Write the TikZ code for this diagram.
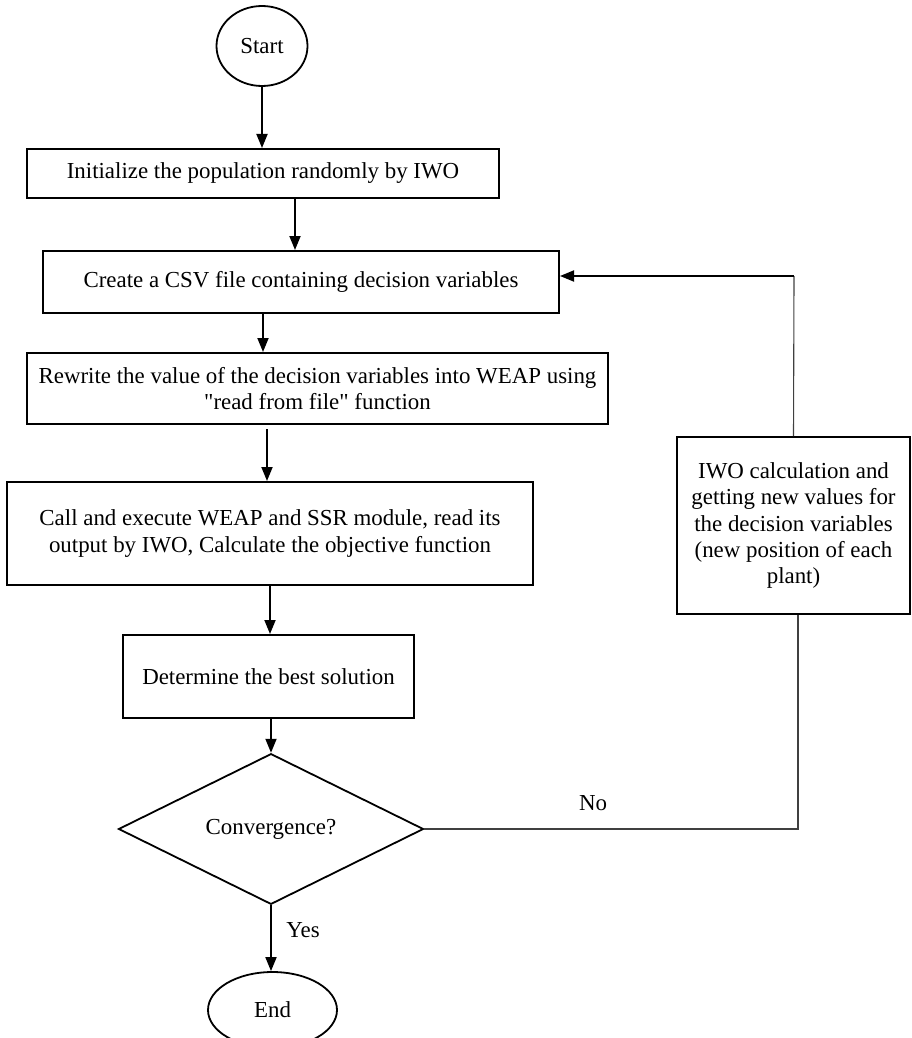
\documentclass[tikz,border=0pt]{standalone}
\usepackage{fontspec}
\setmainfont{Liberation Serif}
\usetikzlibrary{shapes.geometric,arrows.meta}
\begin{document}
\begin{tikzpicture}[x=1pt,y=-1pt,
  every node/.style={font=\fontsize{22.9}{26.3}\selectfont, inner sep=0pt},
  box/.style={draw, line width=2pt, rectangle, align=center},
  term/.style={draw, line width=1.8pt, ellipse},
  dec/.style={draw, line width=1.8pt, diamond},
  arr/.style={line width=1.8pt, -{Triangle[length=14pt,width=11pt]}},
  thinline/.style={line width=1.1pt, draw=black!75}
]
\useasboundingbox (0,0) rectangle (911,1038);
\clip (0,0) rectangle (911,1038);

\node[term, minimum width=91, minimum height=80] (start) at (262,46) {Start};
\node[box, minimum width=472, minimum height=49] (b1) at (263,173.5) {Initialize the population randomly by IWO};
\node[box, minimum width=516, minimum height=62] (b2) at (301,282) {Create a CSV file containing decision variables};
\node[box, minimum width=581, minimum height=71] (b3) at (317.5,388.5) {Rewrite the value of the decision variables into WEAP using\\\textquotedbl read from file\textquotedbl{} function};
\node[box, minimum width=526, minimum height=103] (b4) at (270,533.5) {Call and execute WEAP and SSR module, read its\\output by IWO, Calculate the objective function};
\node[box, minimum width=291, minimum height=83] (b5) at (268.5,676.5) {Determine the best solution};
\node[dec, minimum width=305, minimum height=120] (dec) at (271,829) {Convergence?};
\node[term, minimum width=129, minimum height=76] (end) at (272.5,1010) {End};
\node[box, minimum width=233, minimum height=177] (rb) at (793.5,525.5) {IWO calculation and\\getting new values for\\the decision variables\\(new position of each\\plant)};

\node (no) at (593,803) {No};
\node (yes) at (303,930) {Yes};

\draw[arr] (start.south) -- (start.south |- b1.north);
\draw[arr] ([xshift=32pt]b1.south) -- ([xshift=32pt]b1.south |- b2.north);
\draw[arr] ([xshift=-38pt]b2.south) -- ([xshift=-38pt]b2.south |- b3.north);
\draw[arr] ([xshift=-50.5pt,yshift=-4pt]b3.south) -- ([xshift=-50.5pt]b3.south |- b4.north);
\draw[arr] (b4.south) -- (b4.south |- b5.north);
\draw[arr] (dec.north |- b5.south) -- (dec.north);
\draw[arr] (dec.south) -- (dec.south |- end.north);

\coordinate (c1) at (798,829);
\coordinate (c2) at (794,276);
\draw[thinline] (dec.east) -- (c1) -- (c1 |- rb.south);
\draw[thinline] (rb.north) -- (c2);
\draw[arr] (c2) -- (c2 -| b2.east);
\end{tikzpicture}
\end{document}
